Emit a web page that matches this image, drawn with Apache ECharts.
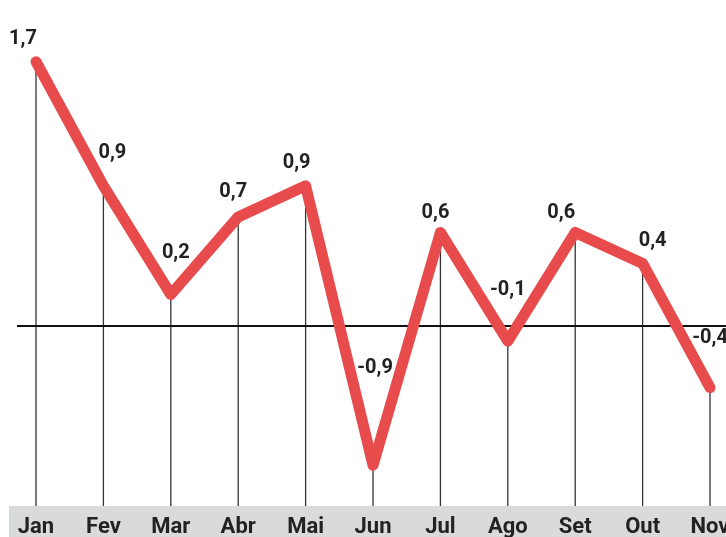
<!DOCTYPE html>
<html>
<head>
<meta charset="utf-8">
<script src="https://cdn.jsdelivr.net/npm/echarts@6/dist/echarts.min.js"></script>
<style>
html,body{margin:0;padding:0;background:#fff;}
#c{width:726px;height:537px;}
</style>
</head>
<body>
<div id="c"></div>
<script>
var months = ['Jan','Fev','Mar','Abr','Mai','Jun','Jul','Ago','Set','Out','Nov'];
var values = [1.7, 0.9, 0.2, 0.7, 0.9, -0.9, 0.6, -0.1, 0.6, 0.4, -0.4];
var labelOffsets = [[-13,-23],[9,-33],[5,-41],[-5,-25],[-9,-23],[2,-97],[-5,-19],[0,-51],[-14,-19],[10,-22],[0,-50]];

var yMin = -1.163, yMax = 1.84;
var pts = values.map(function(v,i){ return [i, v]; });

var chart = echarts.init(document.getElementById('c'), null, {renderer:'canvas'});
chart.setOption({
  animation: false,
  backgroundColor: '#fff',
  graphic: [{
    type: 'rect', z: -10, silent: true,
    shape: {x: 9, y: 506, width: 726, height: 40},
    style: {fill: '#d9dada'}
  }],
  grid: {left: 17, right: 0, top: 40, bottom: 31, outerBoundsMode: 'none', containLabel: false},
  xAxis: {
    type: 'value', min: -0.282, max: 10.237,
    axisLine: {show: false}, axisTick: {show: false}, splitLine: {show: false},
    axisLabel: {
      customValues: months.map(function(m,i){return i;}),
      formatter: function(v){ return months[Math.round(v)] || ''; },
      fontFamily: 'Roboto', fontWeight: 'bold', fontSize: 22, color: '#222',
      margin: 10, hideOverlap: false
    }
  },
  yAxis: {
    type: 'value', min: yMin, max: yMax, show: false
  },
  series: [
    {
      type: 'custom',
      z: 1,
      data: pts,
      renderItem: function(params, api){
        var top = api.coord([api.value(0), api.value(1)]);
        var bot = api.coord([api.value(0), yMin]);
        return {type: 'line', shape: {x1: top[0], y1: top[1], x2: bot[0], y2: bot[1]},
          style: {stroke: '#333', lineWidth: 1.3}};
      },
      silent: true
    },
    {
      type: 'line',
      z: 3,
      data: pts,
      symbol: 'circle', symbolSize: 1, showSymbol: true,
      itemStyle: {color: 'rgba(0,0,0,0)'},
      lineStyle: {color: '#e84b4b', width: 11, cap: 'round', join: 'round'},
      label: {
        show: true, position: 'inside',
        formatter: function(p){ return String(p.value[1]).replace('.', ','); },
        fontFamily: 'Roboto', fontWeight: 'bold', fontSize: 20, color: '#222'
      },
      labelLayout: function(p){
        var o = labelOffsets[p.dataIndex];
        return {dx: o[0], dy: o[1], hideOverlap: false, moveOverlap: null};
      },
      markLine: {
        silent: true, symbol: 'none', z: 2,
        label: {show: false},
        lineStyle: {color: '#111', width: 2, type: 'solid'},
        data: [{yAxis: 0}]
      }
    }
  ]
});
</script>
</body>
</html>
